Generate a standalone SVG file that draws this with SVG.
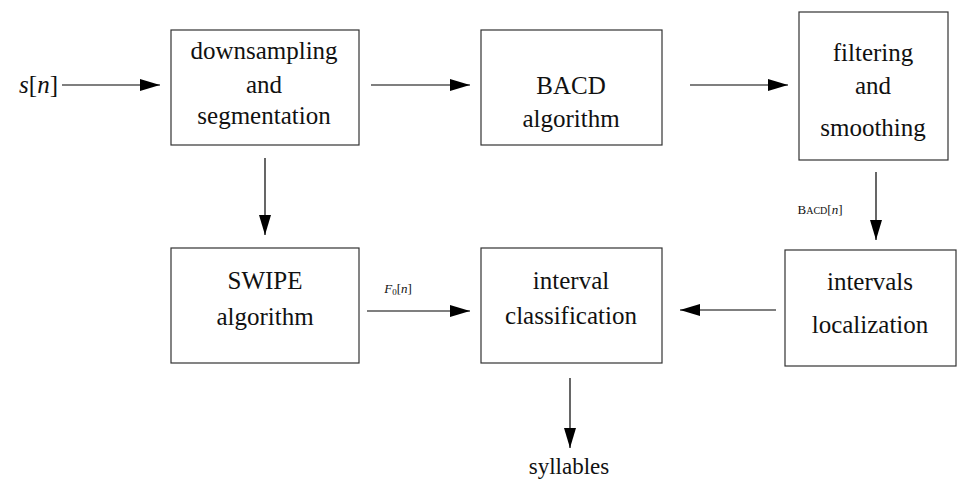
<svg xmlns="http://www.w3.org/2000/svg" width="960" height="479" viewBox="0 0 960 479" font-family="'Liberation Serif', 'Times New Roman', 'DejaVu Serif', serif">
<style>
rect.b{fill:#fff;stroke:#333;stroke-width:1.2}
text{font-family:'Liberation Serif','Times New Roman','DejaVu Serif',serif;font-size:25px;fill:#111;text-anchor:middle}
.c line{stroke:#000;stroke-width:1.2}
</style>
<defs>
<marker id="ah" markerWidth="20" markerHeight="12" refX="20" refY="6" orient="auto" markerUnits="userSpaceOnUse">
<path d="M0,0 L20,6 L0,12 Z" fill="#000"/>
</marker>
</defs>
<rect width="960" height="479" fill="#fff"/>
<g id="input"><text x="58" y="93" style="text-anchor:end"><tspan font-style="italic">s</tspan>[<tspan font-style="italic">n</tspan>]</text></g>
<g id="downsampling"><rect class="b" x="171" y="30" width="188" height="115"/>
<text x="264" y="59">downsampling</text><text x="264" y="93">and</text><text x="264" y="124">segmentation</text></g>
<g id="bacd"><rect class="b" x="481" y="30" width="181" height="115"/>
<text x="571" y="94">BACD</text><text x="571" y="127">algorithm</text></g>
<g id="filtering"><rect class="b" x="799" y="12" width="149" height="148"/>
<text x="873" y="61">filtering</text><text x="873" y="94">and</text><text x="873" y="136">smoothing</text></g>
<g id="swipe"><rect class="b" x="171" y="248" width="188" height="115"/>
<text x="265" y="289">SWIPE</text><text x="265" y="325">algorithm</text></g>
<g id="classification"><rect class="b" x="481" y="248" width="181" height="115"/>
<text x="571" y="289">interval</text><text x="571" y="324">classification</text></g>
<g id="localization"><rect class="b" x="785" y="250" width="171" height="116"/>
<text x="870" y="290">intervals</text><text x="870" y="333">localization</text></g>
<g id="output"><text x="569" y="474" style="font-size:23px">syllables</text></g>
<g class="c" id="connectors">
<line x1="62" y1="85" x2="160" y2="85" marker-end="url(#ah)"/>
<line x1="371" y1="85" x2="470" y2="85" marker-end="url(#ah)"/>
<line x1="690" y1="85" x2="788" y2="85" marker-end="url(#ah)"/>
<line x1="265" y1="158" x2="265" y2="235" marker-end="url(#ah)"/>
<line x1="876" y1="172" x2="876" y2="240" marker-end="url(#ah)"/>
<line x1="367" y1="311" x2="470" y2="311" marker-end="url(#ah)"/>
<line x1="776" y1="310" x2="680" y2="310" marker-end="url(#ah)"/>
<line x1="570" y1="378" x2="570" y2="448" marker-end="url(#ah)"/>
<text x="820" y="214" style="font-size:13px">B<tspan font-size="10">ACD</tspan>[<tspan font-style="italic">n</tspan>]</text>
<text x="398" y="293" style="font-size:13px"><tspan font-style="italic">F</tspan><tspan font-size="9" dy="2">0</tspan><tspan dy="-2">[</tspan><tspan font-style="italic">n</tspan>]</text>
</g>
</svg>
